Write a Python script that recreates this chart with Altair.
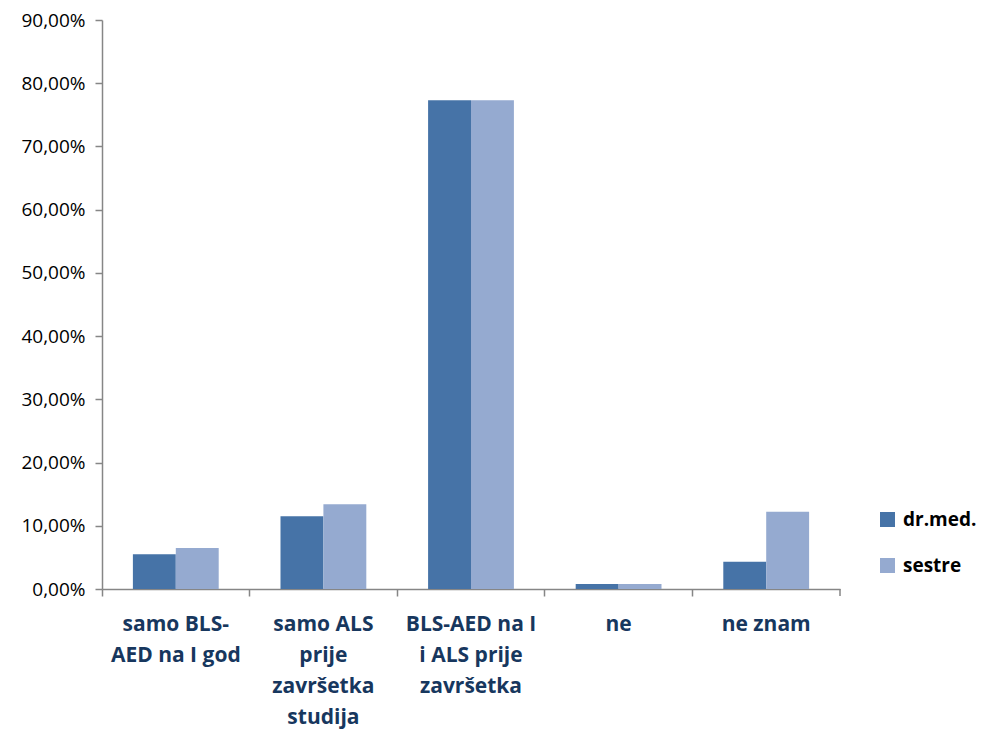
import altair as alt
import pandas as pd

categories = [
    "samo BLS-\nAED na I god",
    "samo ALS\nprije\nzavršetka\nstudija",
    "BLS-AED na I\ni ALS prije\nzavršetka",
    "ne",
    "ne znam",
]
series = ["dr.med.", "sestre"]
dr_med = [0.055, 0.115, 0.773, 0.008, 0.043]
sestre = [0.065, 0.134, 0.773, 0.008, 0.122]
colors = ["#4673A7", "#95AAD0"]

rows = []
for c, a, b in zip(categories, dr_med, sestre):
    rows.append({"cat": c, "series": series[0], "value": a})
    rows.append({"cat": c, "series": series[1], "value": b})
df = pd.DataFrame(rows)

W, H = 738, 569
FONT = "Open Sans"

bars = alt.Chart(df).mark_bar().encode(
    x=alt.X("cat:N", sort=categories, title=None,
            scale=alt.Scale(paddingInner=0, paddingOuter=0),
            axis=alt.Axis(labelExpr="split(datum.label, '\\n')", labelAngle=0,
                          labelFont=FONT, labelFontSize=21, labelFontWeight="bold",
                          labelColor="#17375E", labelLineHeight=31, labelPadding=17,
                          labelBaseline="top",
                          bandPosition=0, tickSize=7, tickColor="#868686",
                          domainColor="#868686", domainWidth=1.5, tickWidth=1.5,
                          labelLimit=220)),
    xOffset=alt.XOffset("series:N", sort=series,
                        scale=alt.Scale(paddingOuter=0.72, paddingInner=0)),
    y=alt.Y("value:Q", title=None,
            scale=alt.Scale(domain=[0, 0.9], nice=False),
            axis=alt.Axis(values=[i / 10 for i in range(10)],
                          labelExpr="replace(format(datum.value, '.2%'), '.', ',')",
                          labelFont=FONT, labelFontSize=19, labelColor="#000000",
                          labelPadding=10, tickSize=7, tickColor="#868686",
                          domainColor="#868686", domainWidth=1.5, tickWidth=1.5,
                          grid=False)),
    color=alt.Color("series:N", sort=series,
                    scale=alt.Scale(domain=series, range=colors),
                    legend=alt.Legend(title=None, orient="none", legendX=776, legendY=490,
                                      symbolType="square", symbolSize=225,
                                      symbolStrokeWidth=0,
                                      labelFont=FONT, labelFontSize=19,
                                      labelFontWeight="bold", labelColor="#000000",
                                      rowPadding=26, labelOffset=6, labelLimit=200)),
)

end_tick = alt.Chart(pd.DataFrame({"a": [0]})).mark_rule(
    color="#868686", strokeWidth=1.5
).encode(x=alt.value(W), y=alt.value(H), y2=alt.value(H + 7))

chart = alt.layer(bars, end_tick).properties(
    width=W, height=H,
    autosize=alt.AutoSizeParams(type="none"),
    padding={"left": 94, "top": 12, "right": 141, "bottom": 148},
).configure(background="#FFFFFF").configure_view(strokeWidth=0, stroke="transparent")

chart.save("out.html", embed_options={"renderer": "svg", "actions": False})
